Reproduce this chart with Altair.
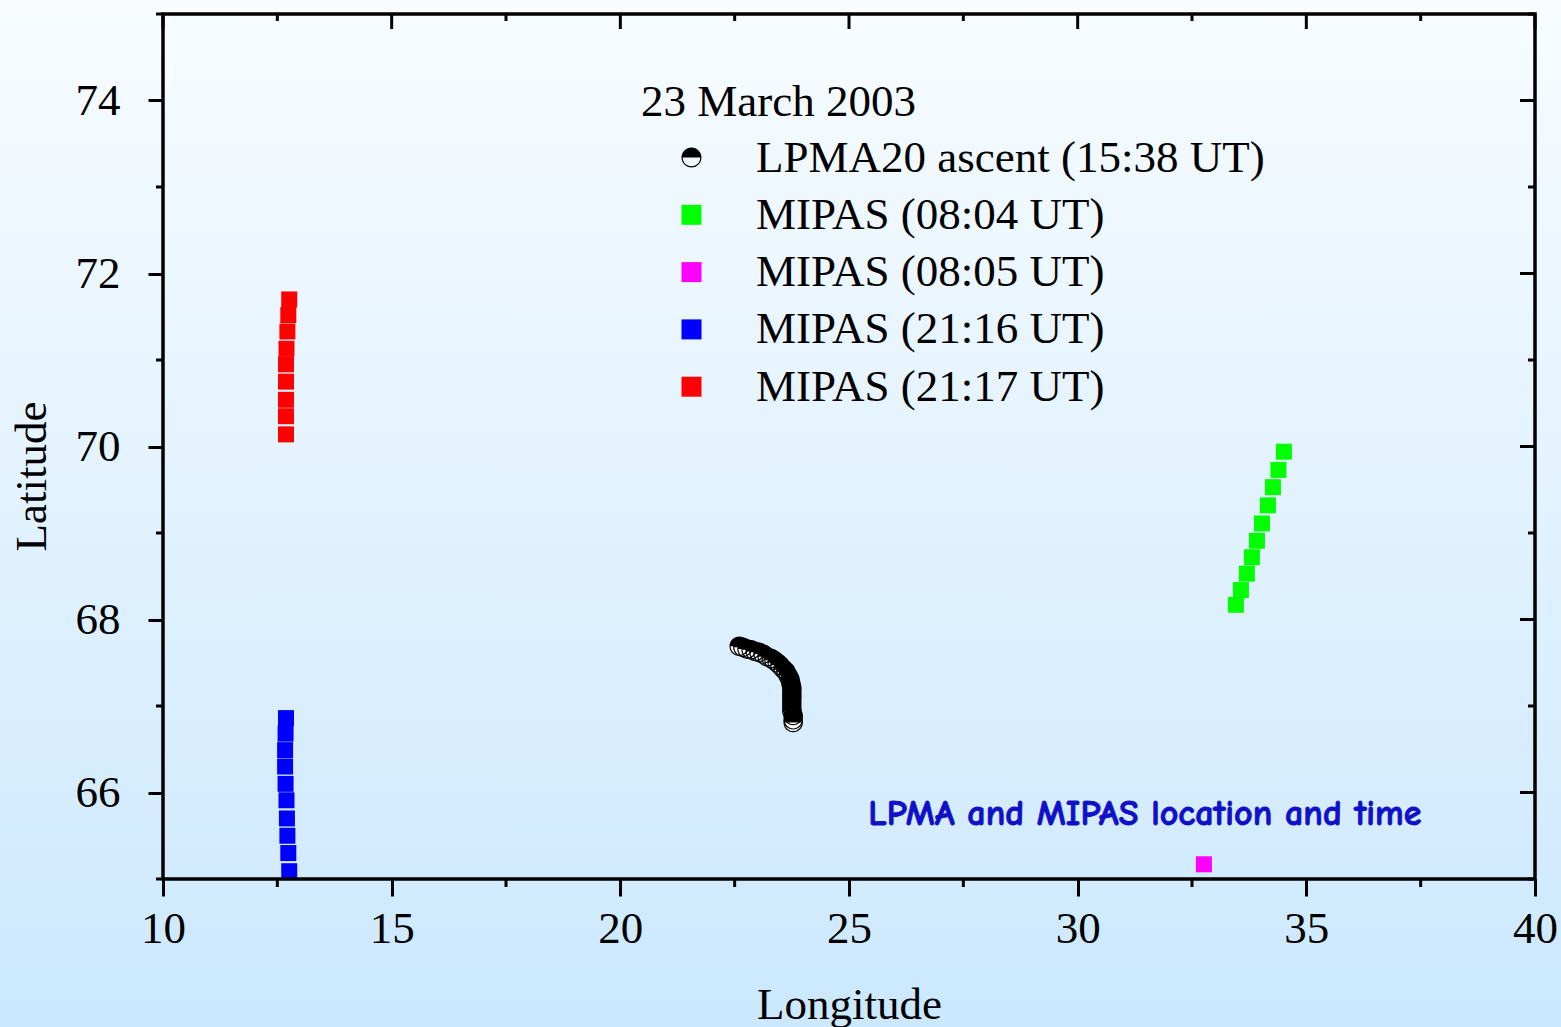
import altair as alt
import pandas as pd

# ---------------- data ----------------
series_names = [
    "LPMA20 ascent (15:38 UT)",
    "MIPAS (08:04 UT)",
    "MIPAS (08:05 UT)",
    "MIPAS (21:16 UT)",
    "MIPAS (21:17 UT)",
]
series_colors = ["#000000", "#00ff00", "#ff00ff", "#0000ff", "#ff0000"]

lpma_lon = [22.60, 22.68, 22.77, 22.86, 22.95, 23.03, 23.12, 23.21, 23.30,
            23.36, 23.43, 23.49, 23.56, 23.62, 23.67, 23.71, 23.73, 23.75,
            23.75, 23.75, 23.75, 23.75, 23.75, 23.75, 23.78, 23.78, 23.78]
lpma_lat = [67.69, 67.68, 67.66, 67.65, 67.63, 67.62, 67.60, 67.57, 67.55,
            67.53, 67.50, 67.47, 67.43, 67.40, 67.35, 67.31, 67.26, 67.21,
            67.17, 67.12, 67.08, 67.03, 66.98, 66.94, 66.89, 66.84, 66.81]

m0804_lon = [33.46, 33.57, 33.70, 33.81, 33.92, 34.03, 34.16, 34.27, 34.39, 34.51]
m0804_lat = [68.17, 68.34, 68.53, 68.72, 68.91, 69.11, 69.32, 69.53, 69.73, 69.94]

m0805_lon = [32.76]
m0805_lat = [65.17]

m2116_lon = [12.69, 12.68, 12.67, 12.67, 12.68, 12.70, 12.71, 12.72, 12.74, 12.76]
m2116_lat = [66.86, 66.68, 66.49, 66.30, 66.10, 65.91, 65.70, 65.50, 65.30, 65.09]

m2117_lon = [12.69, 12.69, 12.69, 12.69, 12.69, 12.70, 12.72, 12.74, 12.76]
m2117_lat = [70.14, 70.35, 70.54, 70.75, 70.95, 71.13, 71.33, 71.52, 71.70]

x_major = [10, 15, 20, 25, 30, 35, 40]
x_minor = [12.5, 17.5, 22.5, 27.5, 32.5, 37.5]
y_major = [66, 68, 70, 72, 74]
y_minor = [65, 67, 69, 71, 73, 75]

legend_title = "23 March 2003"
note_text = ["LPMA and MIPAS location and time"]
note_lon = [25.42]
note_lat = [65.62]

# ---------------- layout ----------------
W, H = 1372, 865
PAD = {"left": 163, "top": 14, "right": 26, "bottom": 148}
SERIF = "Liberation Serif"

# half-filled circle symbol (top half black, bottom half outlined)
half_circle = ("M -1 0 A 1 1 0 0 1 1 0 Z "
               "M -1 0 A 1 1 0 0 0 1 0 L 0.88 0 A 0.88 0.88 0 0 1 -0.88 0 Z")
shapes = [half_circle, "square", "square", "square", "square"]

lpma_df = pd.DataFrame({"lon": lpma_lon, "lat": lpma_lat, "series": series_names[0]})
mipas_df = pd.concat([
    pd.DataFrame({"lon": m0804_lon, "lat": m0804_lat, "series": series_names[1]}),
    pd.DataFrame({"lon": m0805_lon, "lat": m0805_lat, "series": series_names[2]}),
    pd.DataFrame({"lon": m2116_lon, "lat": m2116_lat, "series": series_names[3]}),
    pd.DataFrame({"lon": m2117_lon, "lat": m2117_lat, "series": series_names[4]}),
], ignore_index=True)

xscale = alt.Scale(domain=[10, 40], nice=False, zero=False)
yscale = alt.Scale(domain=[65, 75], nice=False, zero=False)

x_axis = alt.Axis(values=x_major, format="d", grid=False, domain=False, zindex=2,
                  ticks=True, tickSize=17, tickWidth=3, tickColor="black",
                  labelFont=SERIF, labelFontSize=45, labelColor="black",
                  labelPadding=10, labelFlush=False, labelOverlap=False,
                  title="Longitude", titleFont=SERIF, titleFontSize=45,
                  titleFontWeight="normal", titleColor="black",
                  titleX=686, titleY=139, titleAlign="center",
                  titleBaseline="alphabetic")
y_axis = alt.Axis(values=y_major, format="d", grid=False, domain=False, zindex=2,
                  ticks=True, tickSize=15, tickWidth=3, tickColor="black",
                  labelFont=SERIF, labelFontSize=45, labelColor="black",
                  labelPadding=28, labelFlush=False, labelOverlap=False,
                  title="Latitude", titleFont=SERIF, titleFontSize=45,
                  titleFontWeight="normal", titleColor="black",
                  titleAngle=270, titleX=-118, titleY=462, titleAlign="center",
                  titleBaseline="alphabetic")

legend = alt.Legend(orient="none", legendX=478, legendY=66, padding=0, zindex=2,
                    title=legend_title, titleFont=SERIF, titleFontSize=45,
                    titleFontWeight="normal", titleColor="black",
                    titleBaseline="top", titlePadding=10, titleLimit=0,
                    labelFont=SERIF, labelFontSize=45, labelColor="black",
                    labelLimit=0, labelOffset=42, symbolOffset=28,
                    symbolSize=400, symbolStrokeWidth=0, rowPadding=11.3)

color_enc = alt.Color("series:N", scale=alt.Scale(domain=series_names, range=series_colors),
                      legend=legend)
shape_enc = alt.Shape("series:N", scale=alt.Scale(domain=series_names, range=shapes),
                      legend=legend)

one = pd.DataFrame({"a": [0]})

background = alt.Chart(one).mark_rect(
    fill=alt.Gradient(gradient="linear",
                      stops=[alt.GradientStop(color="#f8fcff", offset=0),
                             alt.GradientStop(color="#cbe8fe", offset=1)],
                      x1=0, x2=0, y1=0, y2=1)
).encode(x=alt.value(-PAD["left"]), x2=alt.value(W + PAD["right"]),
         y=alt.value(-PAD["top"]), y2=alt.value(H + PAD["bottom"]))

xmaj_df = pd.DataFrame({"v": x_major})
xmin_df = pd.DataFrame({"v": x_minor})
ymaj_df = pd.DataFrame({"v": y_major})
ymin_df = pd.DataFrame({"v": y_minor})

def xrule(df, y0, y1):
    return alt.Chart(df).mark_rule(color="black", strokeWidth=3).encode(
        x=alt.X("v:Q", scale=xscale, axis=x_axis), y=alt.value(y0), y2=alt.value(y1))

def yrule(df, x0, x1):
    return alt.Chart(df).mark_rule(color="black", strokeWidth=3).encode(
        y=alt.Y("v:Q", scale=yscale, axis=y_axis), x=alt.value(x0), x2=alt.value(x1))

ticks = [
    xrule(xmin_df, H, H + 8),      # bottom minor (outward)
    xrule(xmaj_df, 0, 15),         # top major (inward)
    xrule(xmin_df, 0, 7),          # top minor (inward)
    yrule(ymin_df, -7, 0),         # left minor (outward)
    yrule(ymaj_df, W - 15, W),     # right major (inward)
    yrule(ymin_df, W - 7, W),      # right minor (inward)
]

X = alt.X("lon:Q", scale=xscale, axis=x_axis)
Y = alt.Y("lat:Q", scale=yscale, axis=y_axis)

mipas = alt.Chart(mipas_df).mark_point(filled=True, opacity=1, size=256).encode(
    x=X, y=Y, color=color_enc, shape=shape_enc)

lpma_white = alt.Chart(lpma_df).mark_point(
    filled=True, opacity=1, size=380, shape="circle", fill="white", stroke=None
).encode(x=X, y=Y)

lpma = alt.Chart(lpma_df).mark_point(filled=True, opacity=1, size=380).encode(
    x=X, y=Y, color=color_enc, shape=shape_enc)

note = alt.Chart(pd.DataFrame({"lon": note_lon, "lat": note_lat, "t": note_text})).mark_text(
    align="left", baseline="alphabetic", font="Comic Sans MS, Comic Neue, DejaVu Sans",
    fontWeight="bold", fontSize=36, color="#1010c8", stroke="#1010c8", strokeWidth=0.9
).encode(x=X, y=Y, text="t:N")

frame = alt.Chart(one).mark_rect(filled=False, stroke="black", strokeWidth=3.5).encode(
    x=alt.value(0), x2=alt.value(W), y=alt.value(0), y2=alt.value(H))

chart = alt.layer(background, *ticks, mipas, lpma_white, lpma, note, frame).properties(
    width=W, height=H,
    autosize=alt.AutoSizeParams(type="none"),
    padding=PAD,
).configure_view(stroke=None).configure(background="#e6f3fe")

chart.save("out.html", embed_options={"renderer": "svg", "actions": False})
